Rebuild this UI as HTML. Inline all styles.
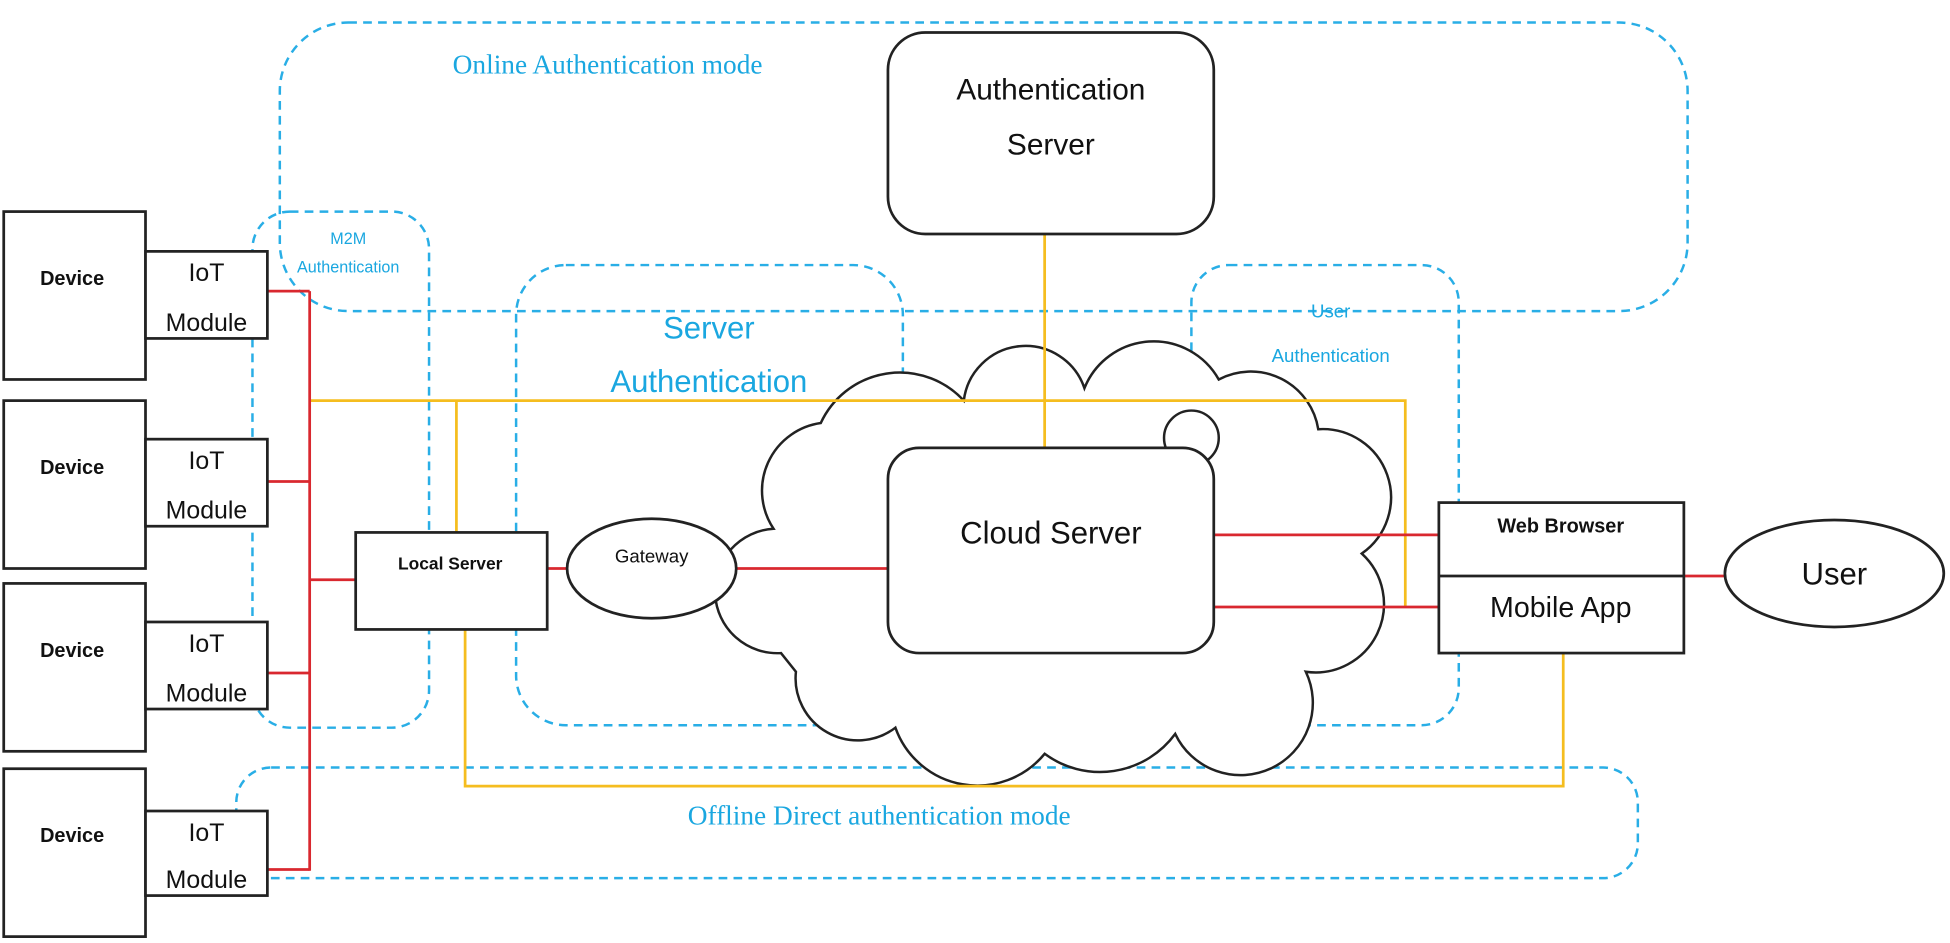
<!DOCTYPE html>
<html><head><meta charset="utf-8"><style>html,body{margin:0;padding:0;background:#fff}svg{display:block}</style></head>
<body>
<svg width="1950" height="943" viewBox="0 0 1568 758" xmlns="http://www.w3.org/2000/svg">
<g fill="none" stroke="#29aee6" stroke-width="2" stroke-dasharray="7,5">
<rect x="225" y="18" width="1132" height="232" rx="55"/>
<rect x="203" y="170" width="142" height="415" rx="30"/>
<rect x="415" y="213" width="311" height="370" rx="40"/>
<rect x="958" y="213" width="215" height="370" rx="30"/>
<rect x="190" y="617" width="1127" height="89" rx="28"/>
</g>
<g font-family="Liberation Serif, serif" fill="#1aa7e0" font-size="22">
<text x="364" y="59">Online Authentication mode</text>
<text x="553" y="663">Offline Direct authentication mode</text>
</g>
<g font-family="Liberation Sans, sans-serif" fill="#1aa7e0" text-anchor="middle">
<text x="280" y="196" font-size="13">M2M</text>
<text x="280" y="219" font-size="13">Authentication</text>
<text x="570" y="272" font-size="25">Server</text>
<text x="570" y="315" font-size="25">Authentication</text>
<text x="1070" y="255" font-size="15">User</text>
<text x="1070" y="291" font-size="15">Authentication</text>
</g>
<!-- cloud -->
<path d="M628,525 A45,45 0 0 1 622,425 A55,55 0 0 1 660,340 A70,70 0 0 1 775,322 A50,50 0 0 1 872,312 A60,60 0 0 1 980,305 A55,55 0 0 1 1060,345 A55,55 0 0 1 1095,445 A55,55 0 0 1 1050,540 A55,55 0 0 1 945,590 A75,75 0 0 1 840,606 A70,70 0 0 1 720,585 A50,50 0 0 1 640,540 Z" fill="#fff" stroke="#222" stroke-width="2"/>
<circle cx="958" cy="352" r="22" fill="#fff" stroke="#222" stroke-width="2"/>
<!-- lines -->
<g fill="none" stroke-width="2.2">
<polyline stroke="#f5bd1f" points="249,322 1130,322 1130,488"/>
<line stroke="#f5bd1f" x1="367" y1="322" x2="367" y2="428"/>
<polyline stroke="#f5bd1f" points="374,506 374,632 1257,632 1257,525"/>
<line stroke="#f5bd1f" x1="840" y1="188" x2="840" y2="360"/>
<g stroke="#d9282f">
<line x1="249" y1="234" x2="249" y2="700"/>
<line x1="215" y1="234" x2="249" y2="234"/>
<line x1="215" y1="387" x2="249" y2="387"/>
<line x1="215" y1="541" x2="249" y2="541"/>
<line x1="215" y1="699" x2="249" y2="699"/>
<line x1="249" y1="466" x2="286" y2="466"/>
<line x1="440" y1="457" x2="456" y2="457"/>
<line x1="592" y1="457" x2="714" y2="457"/>
<line x1="976" y1="430" x2="1157" y2="430"/>
<line x1="976" y1="488" x2="1157" y2="488"/>
<line x1="1354" y1="463" x2="1387" y2="463"/>
</g>
</g>
<!-- boxes -->
<g fill="#fff" stroke="#222" stroke-width="2.2">
<rect x="714" y="26" width="262" height="162" rx="30"/>
<rect x="714" y="360" width="262" height="165" rx="25"/>
<rect x="3" y="170" width="114" height="135"/>
<rect x="3" y="322" width="114" height="135"/>
<rect x="3" y="469" width="114" height="135"/>
<rect x="3" y="618" width="114" height="135"/>
<rect x="117" y="202" width="98" height="70"/>
<rect x="117" y="353" width="98" height="70"/>
<rect x="117" y="500" width="98" height="70"/>
<rect x="117" y="652" width="98" height="68"/>
<rect x="286" y="428" width="154" height="78"/>
<ellipse cx="524" cy="457" rx="68" ry="40"/>
<rect x="1157" y="404" width="197" height="121"/>
<line x1="1157" y1="463" x2="1354" y2="463"/>
<ellipse cx="1475" cy="461" rx="88" ry="43"/>
</g>
<g font-family="Liberation Sans, sans-serif" fill="#111" text-anchor="middle">
<text x="845" y="80" font-size="24">Authentication</text>
<text x="845" y="124" font-size="24">Server</text>
<text x="845" y="437" font-size="25">Cloud Server</text>
<g font-size="16" font-weight="bold">
<text x="58" y="229">Device</text><text x="58" y="381">Device</text>
<text x="58" y="528">Device</text><text x="58" y="677">Device</text>
</g>
<g font-size="20">
<text x="166" y="226">IoT</text><text x="166" y="266">Module</text>
<text x="166" y="377">IoT</text><text x="166" y="417">Module</text>
<text x="166" y="524">IoT</text><text x="166" y="564">Module</text>
<text x="166" y="676">IoT</text><text x="166" y="714">Module</text>
</g>
<text x="362" y="458" font-size="14" font-weight="bold">Local Server</text>
<text x="524" y="452" font-size="15">Gateway</text>
<text x="1255" y="428" font-size="16" font-weight="bold">Web Browser</text>
<text x="1255" y="496" font-size="23">Mobile App</text>
<text x="1475" y="470" font-size="25">User</text>
</g>
</svg>
</body></html>
